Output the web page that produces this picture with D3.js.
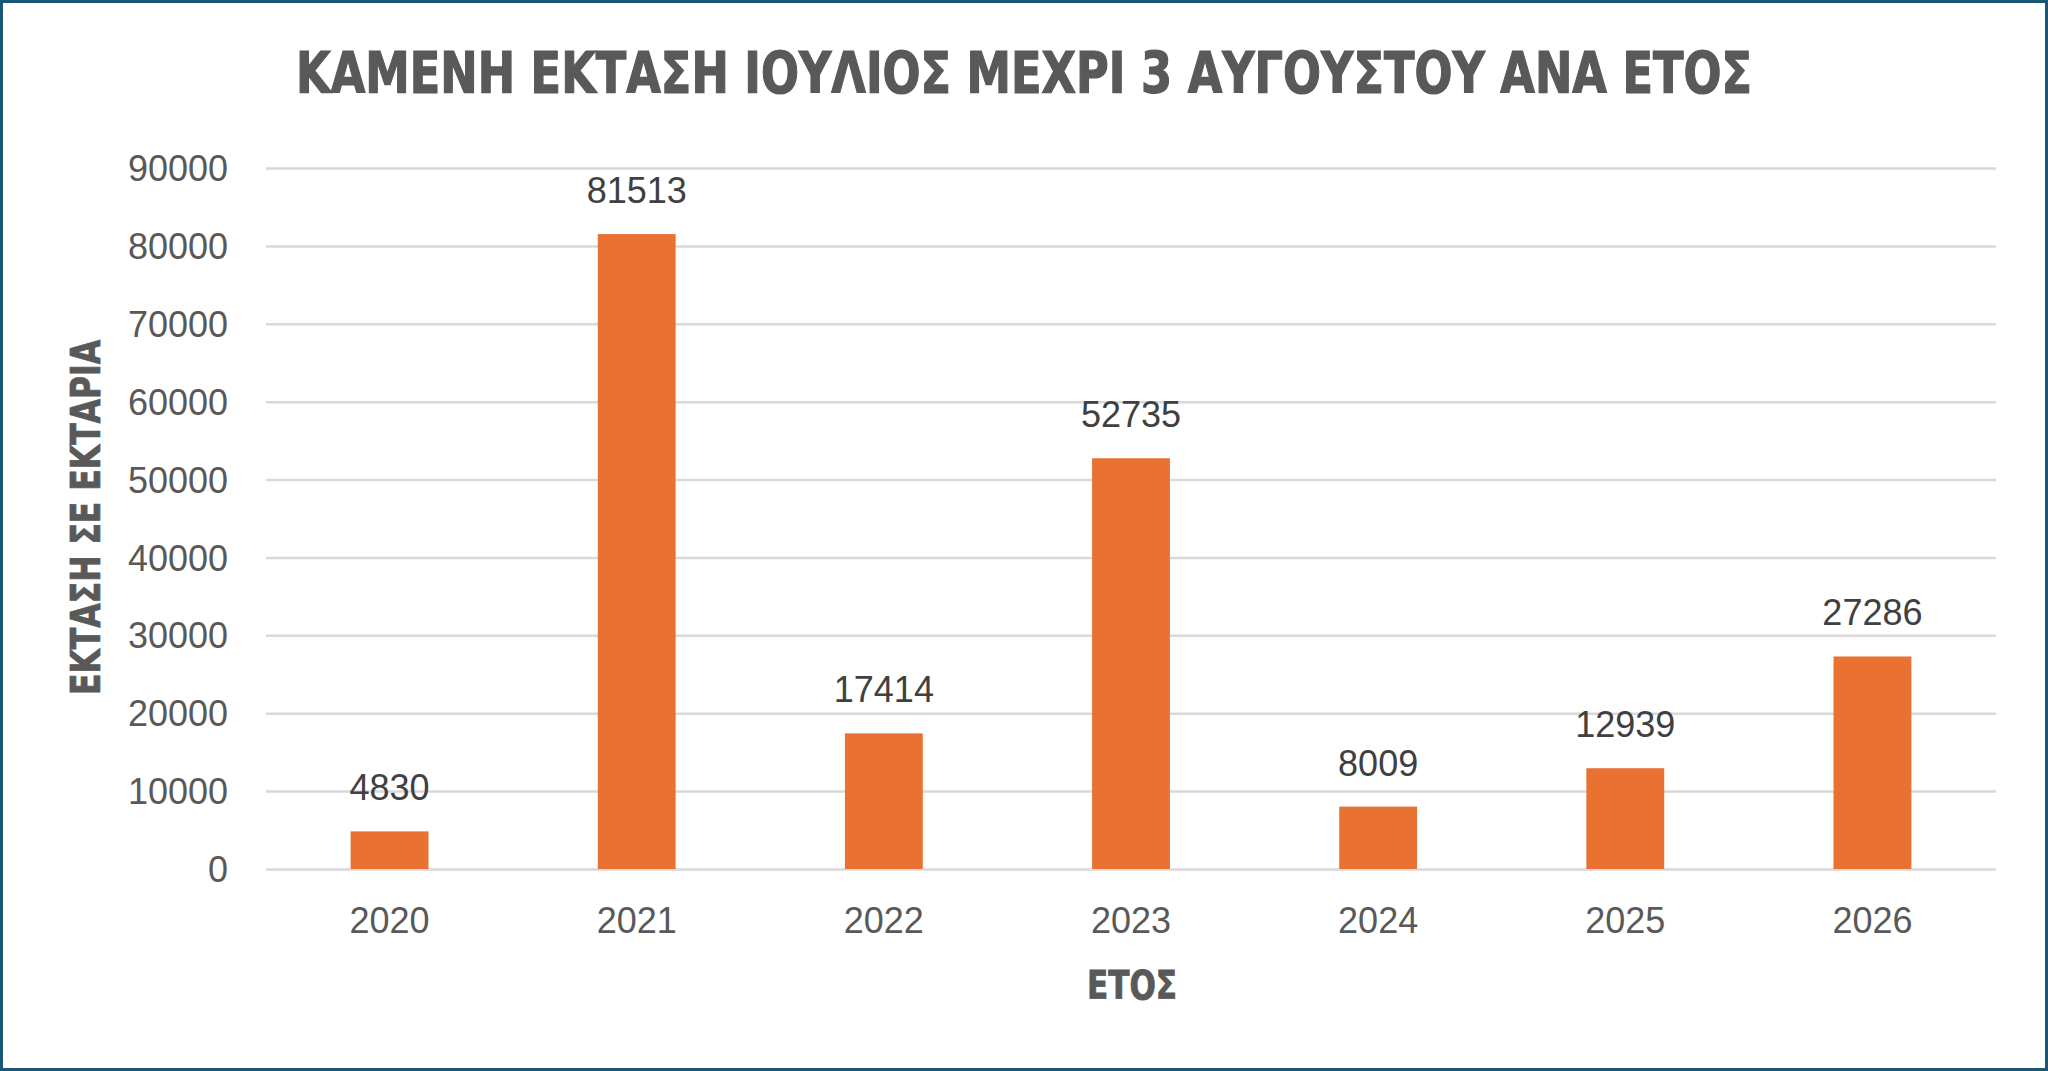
<!DOCTYPE html>
<html>
<head>
<meta charset="utf-8">
<script src="https://cdn.jsdelivr.net/npm/d3@7"></script>
<style>
  html, body { margin: 0; padding: 0; background: #ffffff; }
  svg { display: block; }
</style>
</head>
<body>
<svg id="chart" width="2048" height="1071"></svg>
<script>
// ---- data ----
const years = ["2020", "2021", "2022", "2023", "2024", "2025", "2026"];
const burnedArea = [4830, 81513, 17414, 52735, 8009, 12939, 27286];
const yTicks = [0, 10000, 20000, 30000, 40000, 50000, 60000, 70000, 80000, 90000];
const titleText = "ΚΑΜΕΝΗ ΕΚΤΑΣΗ ΙΟΥΛΙΟΣ ΜΕΧΡΙ 3 ΑΥΓΟΥΣΤΟΥ ΑΝΑ ΕΤΟΣ";
const yTitleText = "ΕΚΤΑΣΗ ΣΕ ΕΚΤΑΡΙΑ";
const xTitleText = "ΕΤΟΣ";

const W = 2048, H = 1071;
const svg = d3.select("#chart");

// border
svg.append("rect")
  .attr("x", 1.5).attr("y", 1.5)
  .attr("width", W - 3).attr("height", H - 3)
  .attr("fill", "#ffffff")
  .attr("stroke", "#1b5676")
  .attr("stroke-width", 3);

const plot = { left: 266, right: 1996, top: 168, bottom: 869 };

const x = d3.scaleBand()
  .domain(years)
  .range([plot.left, plot.right])
  .paddingInner(0.685)
  .paddingOuter(0.3425);

const y = d3.scaleLinear()
  .domain([0, 90000])
  .range([plot.bottom, plot.top]);

const numFont = "'Liberation Sans', Arial, Helvetica, sans-serif";
const boldFont = "'Liberation Sans Narrow', 'DejaVu Sans Condensed', 'Roboto', 'Liberation Sans', sans-serif";

// gridlines
const yAxisGrid = d3.axisLeft(y)
  .tickValues(yTicks)
  .tickSize(-(plot.right - plot.left))
  .tickFormat("");
const gGrid = svg.append("g")
  .attr("transform", `translate(${plot.left},0)`)
  .call(yAxisGrid);
gGrid.select(".domain").remove();
gGrid.selectAll(".tick line")
  .attr("stroke", "#d9d9d9")
  .attr("stroke-width", 2.5);

// y tick labels
const yAxis = d3.axisLeft(y)
  .tickValues(yTicks)
  .tickSize(0)
  .tickPadding(0)
  .tickFormat(d3.format("d"));
const gY = svg.append("g")
  .attr("transform", `translate(228,0)`)
  .call(yAxis);
gY.select(".domain").remove();
gY.selectAll(".tick text")
  .attr("font-family", numFont)
  .attr("font-size", 36)
  .attr("fill", "#595959")
  .attr("dy", "0.35em");

// x tick labels
const xAxis = d3.axisBottom(x).tickSize(0).tickPadding(0);
const gX = svg.append("g")
  .attr("transform", `translate(0,${plot.bottom})`)
  .call(xAxis);
gX.select(".domain").remove();
gX.selectAll(".tick text")
  .attr("font-family", numFont)
  .attr("font-size", 36)
  .attr("fill", "#595959")
  .attr("dy", null)
  .attr("y", 64);

// bars
const data = years.map((yr, i) => ({ year: yr, value: burnedArea[i] }));
svg.append("g").selectAll("rect")
  .data(data)
  .join("rect")
  .attr("x", d => x(d.year))
  .attr("width", x.bandwidth())
  .attr("y", d => y(d.value))
  .attr("height", d => y(0) - y(d.value))
  .attr("fill", "#e97132");

// data labels
svg.append("g").selectAll("text")
  .data(data)
  .join("text")
  .attr("x", d => x(d.year) + x.bandwidth() / 2)
  .attr("y", d => y(d.value) - 31)
  .attr("text-anchor", "middle")
  .attr("font-family", numFont)
  .attr("font-size", 36)
  .attr("fill", "#404040")
  .text(d => d.value);

// title
svg.append("text")
  .attr("x", 296)
  .attr("y", 93)
  .attr("font-family", boldFont)
  .attr("font-weight", "bold")
  .attr("font-size", 57)
  .attr("fill", "#595959")
  .attr("stroke", "#595959")
  .attr("stroke-width", 1.2)
  .attr("textLength", 1456)
  .attr("lengthAdjust", "spacingAndGlyphs")
  .text(titleText);

// y axis title
svg.append("text")
  .attr("transform", "translate(100,695) rotate(-90)")
  .attr("x", 0)
  .attr("y", 0)
  .attr("font-family", boldFont)
  .attr("font-weight", "bold")
  .attr("font-size", 41)
  .attr("fill", "#595959")
  .attr("stroke", "#595959")
  .attr("stroke-width", 0.8)
  .attr("textLength", 355)
  .attr("lengthAdjust", "spacingAndGlyphs")
  .text(yTitleText);

// x axis title
svg.append("text")
  .attr("x", 1087)
  .attr("y", 999)
  .attr("font-family", boldFont)
  .attr("font-weight", "bold")
  .attr("font-size", 39)
  .attr("fill", "#595959")
  .attr("stroke", "#595959")
  .attr("stroke-width", 0.8)
  .attr("textLength", 90)
  .attr("lengthAdjust", "spacingAndGlyphs")
  .text(xTitleText);
</script>
</body>
</html>
